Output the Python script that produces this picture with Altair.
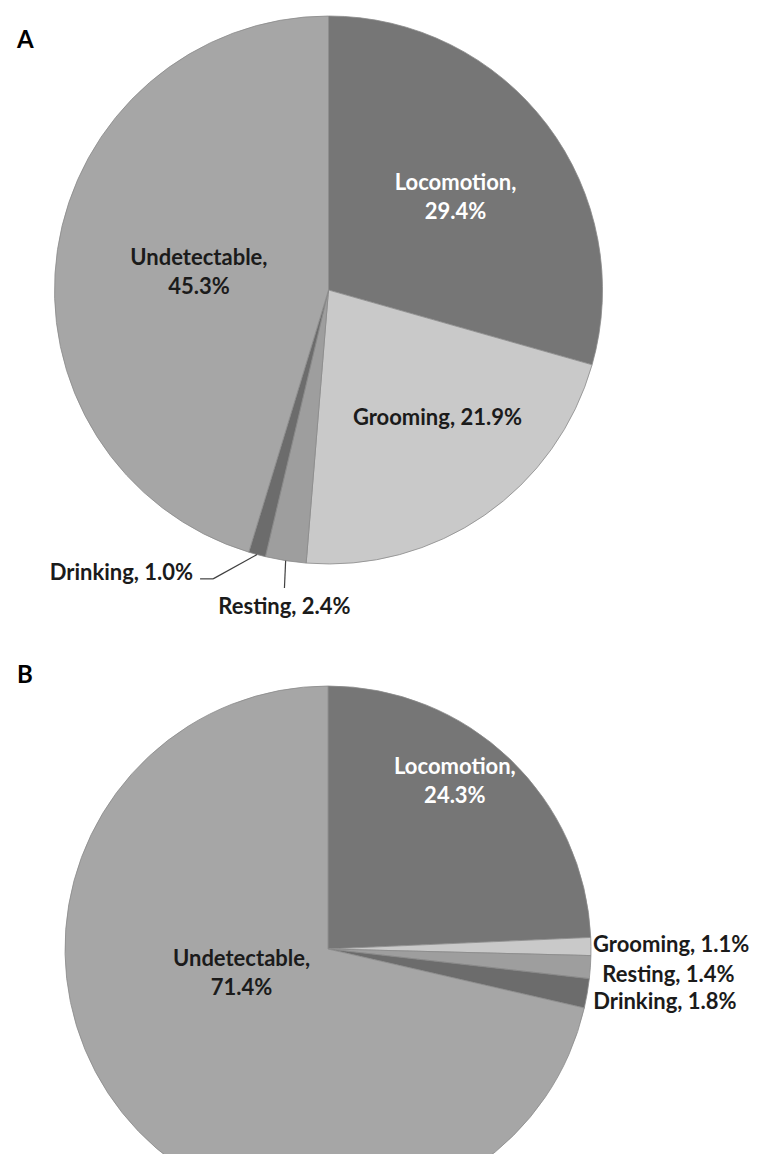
import altair as alt
import pandas as pd

# ---------------- data ----------------
activities = ["Locomotion", "Grooming", "Resting", "Drinking", "Undetectable"]
pct_A = [29.4, 21.9, 2.4, 1.0, 45.3]
pct_B = [24.3, 1.1, 1.4, 1.8, 71.4]
panels = ["A", "B"]

# ---------------- styles ----------------
shades = ["#767676", "#c9c9c9", "#9e9e9e", "#6c6c6c", "#a6a6a6"]
W, H = 745, 1146
# pie centre x, centre y, radius (chart pixels)
geom = {"A": (320.5, 282, 274), "B": (320, 941, 263)}
letter_pos = {"A": (9, 40), "B": (9, 675)}
DARK = "#1b1b1b"
# label placement: radius along mid-angle, dx, dy, align, fill, separator
label_style = {
    ("A", "Locomotion"): (158, 1, -12, "center", "white", ",\n"),
    ("A", "Grooming"): (156, 20, 0, "center", DARK, ", "),
    ("A", "Resting"): (320, 6, 1, "center", DARK, ", "),
    ("A", "Drinking"): (293, -59, 0, "right", DARK, ", "),
    ("A", "Undetectable"): (131, 0, -13, "center", DARK, ",\n"),
    ("B", "Locomotion"): (211, -19, -30, "center", "white", ",\n"),
    ("B", "Grooming"): (266, -1, -1, "left", DARK, ", "),
    ("B", "Resting"): (274, 1, 7, "left", DARK, ", "),
    ("B", "Drinking"): (269, 0, 8, "left", DARK, ", "),
    ("B", "Undetectable"): (90, -16, -46, "center", DARK, ",\n"),
}
# leader lines: elbow offset and end offset relative to the label anchor
leaders = {
    ("A", "Drinking"): (20, 6, 7, 6),
    ("A", "Resting"): (0, -19, 0, -19),
}

rows = []
for panel, vals in zip(panels, [pct_A, pct_B]):
    for i, (a, v) in enumerate(zip(activities, vals)):
        lr, ldx, ldy, al, fill, sep = label_style[(panel, a)]
        e = leaders.get((panel, a))
        rows.append({
            "panel": panel, "activity": a, "value": v, "order": i,
            "lr": lr, "ldx": ldx, "ldy": ldy, "talign": al, "tfill": fill, "sep": sep,
            "lead": 1 if e else 0,
            "e1dx": e[0] if e else 0, "e1dy": e[1] if e else 0,
            "e2dx": e[2] if e else 0, "e2dy": e[3] if e else 0,
        })
df = pd.DataFrame(rows)

theta_scale = alt.Scale(domain=[0, 100])
color_enc = alt.Color("activity:N", scale=alt.Scale(domain=activities, range=shades), legend=None)
FONT = "Lato"
FS = 22

layers = []
for panel in panels:
    cx, cy, R = geom[panel]
    base = alt.Chart(df).transform_filter(alt.datum.panel == panel)
    arcs = base.mark_arc(outerRadius=R, stroke="#8a8a8a", strokeWidth=0.8).encode(
        theta=alt.Theta("value:Q", stack=True, scale=theta_scale),
        order=alt.Order("order:Q"),
        color=color_enc,
        x=alt.value(cx),
        y=alt.value(cy),
    )
    layers.append(arcs)

    pos = base.transform_stack(
        stack="value", groupby=["panel"], as_=["v0", "v1"], sort=[alt.SortField("order")]
    ).transform_calculate(
        ang="PI * (datum.v0 + datum.v1) / 100",
    ).transform_calculate(
        lx=f"{cx} + datum.lr * sin(datum.ang) + datum.ldx",
        ly=f"{cy} - datum.lr * cos(datum.ang) + datum.ldy",
        ex=f"{cx} + {R} * sin(datum.ang)",
        ey=f"{cy} - {R} * cos(datum.ang)",
        label="datum.activity + datum.sep + format(datum.value, '.1f') + '%'",
    ).transform_calculate(
        e1x="datum.lx + datum.e1dx", e1y="datum.ly + datum.e1dy",
        e2x="datum.lx + datum.e2dx", e2y="datum.ly + datum.e2dy",
    )

    lead = pos.transform_filter(alt.datum.lead == 1)
    layers.append(lead.mark_rule(color="#404040", strokeWidth=1.2).encode(
        x=alt.X("ex:Q", scale=None, axis=None), y=alt.Y("ey:Q", scale=None, axis=None),
        x2="e1x:Q", y2="e1y:Q"))
    layers.append(lead.mark_rule(color="#404040", strokeWidth=1.2).encode(
        x=alt.X("e1x:Q", scale=None, axis=None), y=alt.Y("e1y:Q", scale=None, axis=None),
        x2="e2x:Q", y2="e2y:Q"))

    for al in ["center", "left", "right"]:
        for fill in ["white", DARK]:
            sub = df[(df["panel"] == panel) & (df["talign"] == al) & (df["tfill"] == fill)]
            if sub.empty:
                continue
            layers.append(
                pos.transform_filter(
                    (alt.datum.talign == al) & (alt.datum.tfill == fill)
                ).mark_text(
                    font=FONT, fontSize=FS, fontWeight="bold", color=fill, align=al,
                    baseline="middle", lineBreak="\n", lineHeight=29,
                ).encode(
                    x=alt.X("lx:Q", scale=None, axis=None),
                    y=alt.Y("ly:Q", scale=None, axis=None),
                    text="label:N",
                )
            )

    lx0, ly0 = letter_pos[panel]
    layers.append(
        alt.Chart(pd.DataFrame({"letter": [panel]})).mark_text(
            font=FONT, fontSize=24, fontWeight="bold", color="black",
            align="left", baseline="alphabetic",
        ).encode(x=alt.value(lx0), y=alt.value(ly0), text="letter:N")
    )

chart = alt.layer(*layers).properties(
    width=W, height=H, padding=0,
    autosize=alt.AutoSizeParams(type="none"),
).configure_view(stroke=None)

chart.save("out.html", embed_options={"renderer": "svg", "actions": False})
